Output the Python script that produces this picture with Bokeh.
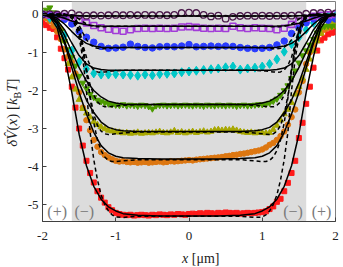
from bokeh.plotting import figure
from bokeh.models import BoxAnnotation, Label, FixedTicker, Range1d, Div
from bokeh.layouts import row, column
from bokeh.embed import file_html
from bokeh.resources import INLINE

# ---------------- data ----------------
x_ticks = [-2, -1, 0, 1, 2]
y_ticks = [0, -1, -2, -3, -4, -5]
neg_region = [-1.6, 1.6]
region_labels = ["(+)", "(\u2212)", "(\u2212)", "(+)"]
region_label_x = [-1.8, -1.43, 1.42, 1.81]
region_label_y = -5.19

XA = [-2.0, -1.9, -1.8, -1.7, -1.6, -1.5, -1.4, -1.3, -1.2, -1.1,
      -1.0, -0.9, -0.8, -0.7, -0.6, -0.5, -0.4, -0.3, -0.2, -0.1,
      0.0, 0.1, 0.2, 0.3, 0.4, 0.5, 0.6, 0.7, 0.8, 0.9,
      1.0, 1.1, 1.2, 1.3, 1.4, 1.5, 1.6, 1.7, 1.8, 1.9,
      2.0]

XB = [-2.00, -1.95, -1.90, -1.85, -1.80, -1.75, -1.70, -1.65, -1.60, -1.55,
      -1.50, -1.45, -1.40, -1.35, -1.30, -1.25, -1.20, -1.15, -1.10, -1.05,
      -1.00, -0.95, -0.90, -0.85, -0.80, -0.75, -0.70, -0.65, -0.60, -0.55,
      -0.50, -0.45, -0.40, -0.35, -0.30, -0.25, -0.20, -0.15, -0.10, -0.05,
      0.00, 0.05, 0.10, 0.15, 0.20, 0.25, 0.30, 0.35, 0.40, 0.45,
      0.50, 0.55, 0.60, 0.65, 0.70, 0.75, 0.80, 0.85, 0.90, 0.95,
      1.00, 1.05, 1.10, 1.15, 1.20, 1.25, 1.30, 1.35, 1.40, 1.45,
      1.50, 1.55, 1.60, 1.65, 1.70, 1.75, 1.80, 1.85, 1.90, 1.95,
      2.00]

open_circles = [0.00, 0.01, 0.00, 0.02, 0.03, -0.02, -0.03, -0.02, -0.03, -0.02,
                -0.01, -0.02, -0.01, -0.02, -0.01, -0.02, -0.01, -0.02, -0.01, 0.04,
                0.05, 0.04, -0.01, -0.05, -0.03, -0.11, -0.06, -0.04, -0.03, -0.04,
                -0.03, -0.04, -0.03, -0.04, -0.03, -0.02, 0.02, 0.04, 0.04, 0.05,
                0.03]
open_squares = [0.00, -0.01, -0.03, -0.05, -0.09, -0.14, -0.22, -0.29, -0.35, -0.39,
                -0.42, -0.44, -0.40, -0.37, -0.36, -0.37, -0.36, -0.37, -0.36, -0.33,
                -0.32, -0.34, -0.36, -0.37, -0.36, -0.37, -0.31, -0.35, -0.37, -0.35,
                -0.36, -0.37, -0.40, -0.36, -0.26, -0.18, -0.10, -0.05, -0.02, -0.01,
                0.00]
blue_circles = [0.00, -0.02, -0.06, -0.13, -0.25, -0.45, -0.60, -0.73, -0.84, -0.89,
                -0.88, -0.86, -0.78, -0.84, -0.87, -0.88, -0.85, -0.84, -0.85, -0.83,
                -0.79, -0.85, -0.84, -0.83, -0.84, -0.83, -0.84, -0.87, -0.89, -0.90,
                -0.89, -0.87, -0.80, -0.70, -0.50, -0.34, -0.22, -0.12, -0.08, -0.15,
                -0.12]
cyan_diamonds = [0.00, -0.09, -0.25, -0.55, -0.95, -1.25, -1.43, -1.55, -1.58, -1.58,
                 -1.57, -1.58, -1.59, -1.61, -1.58, -1.60, -1.57, -1.56, -1.55, -1.52,
                 -1.50, -1.48, -1.46, -1.44, -1.42, -1.39, -1.37, -1.45, -1.42, -1.40,
                 -1.37, -1.30, -1.18, -0.98, -0.78, -0.60, -0.40, -0.22, -0.10, -0.04,
                 -0.02]
green_tri = [0.05, 0.12, 0.18, 0.05, -0.15, -0.45, -0.70, -0.92, -1.12, -1.35,
             -1.62, -1.80, -1.95, -2.10, -2.18, -2.25, -2.29, -2.32, -2.35, -2.37,
             -2.38, -2.39, -2.37, -2.40, -2.38, -2.39, -2.41, -2.38, -2.39, -2.42,
             -2.48, -2.40, -2.39, -2.38, -2.40, -2.39, -2.38, -2.40, -2.39, -2.38,
             -2.39, -2.40, -2.38, -2.39, -2.41, -2.38, -2.39, -2.40, -2.38, -2.39,
             -2.40, -2.38, -2.39, -2.41, -2.39, -2.38, -2.40, -2.39, -2.38, -2.37,
             -2.37, -2.36, -2.33, -2.28, -2.22, -2.12, -2.00, -1.87, -1.68, -1.48,
             -1.27, -1.08, -0.95, -0.80, -0.65, -0.48, -0.36, -0.31, -0.30, -0.31,
             -0.30]
olive_tri = [0.02, 0.00, -0.03, -0.08, -0.15, -0.35, -0.70, -1.30, -1.65, -1.97,
             -2.24, -2.48, -2.60, -2.70, -2.82, -2.90, -2.96, -3.01, -3.05, -3.07,
             -3.09, -3.10, -3.12, -3.11, -3.13, -3.12, -3.10, -3.13, -3.12, -3.11,
             -3.12, -3.10, -3.08, -3.11, -3.12, -3.10, -3.06, -3.11, -3.09, -3.12,
             -3.10, -3.08, -3.11, -3.09, -3.07, -3.10, -3.08, -3.04, -3.03, -3.05,
             -3.03, -3.04, -3.02, -3.05, -3.08, -3.10, -3.11, -3.10, -3.12, -3.11,
             -3.11, -3.12, -3.11, -3.03, -2.92, -2.78, -2.62, -2.50, -2.32, -2.10,
             -1.90, -1.68, -1.45, -1.18, -0.95, -0.70, -0.50, -0.35, -0.25, -0.20,
             -0.18]
orange_circles = [-0.05, -0.10, -0.18, -0.30, -0.45, -0.65, -0.92, -1.10, -1.25, -1.55,
                  -2.05, -2.45, -2.78, -3.05, -3.30, -3.48, -3.62, -3.70, -3.76, -3.81,
                  -3.85, -3.87, -3.86, -3.88, -3.89, -3.88, -3.90, -3.89, -3.88, -3.90,
                  -3.89, -3.88, -3.87, -3.89, -3.88, -3.86, -3.87, -3.86, -3.85, -3.84,
                  -3.83, -3.84, -3.82, -3.81, -3.80, -3.79, -3.78, -3.77, -3.76, -3.75,
                  -3.73, -3.72, -3.70, -3.69, -3.67, -3.66, -3.64, -3.62, -3.60, -3.58,
                  -3.55, -3.50, -3.43, -3.38, -3.30, -3.20, -3.08, -2.90, -2.70, -2.50,
                  -2.05, -1.75, -1.30, -1.00, -0.80, -0.62, -0.48, -0.40, -0.35, -0.32,
                  -0.30]
red_squares = [-0.20, -0.28, -0.35, -0.38, -0.60, -0.90, -1.15, -1.45, -1.90, -2.45,
               -3.00, -3.45, -3.85, -4.17, -4.42, -4.65, -4.82, -4.95, -5.07, -5.15,
               -5.22, -5.25, -5.27, -5.28, -5.27, -5.29, -5.28, -5.27, -5.28, -5.29,
               -5.27, -5.28, -5.26, -5.27, -5.28, -5.26, -5.27, -5.25, -5.26, -5.27,
               -5.25, -5.24, -5.25, -5.23, -5.24, -5.22, -5.23, -5.24, -5.22, -5.23,
               -5.21, -5.22, -5.23, -5.22, -5.24, -5.23, -5.22, -5.23, -5.22, -5.21,
               -5.20, -5.18, -5.12, -5.05, -4.93, -4.85, -4.65, -4.43, -4.17, -3.85,
               -3.25, -2.85, -2.35, -1.90, -1.40, -0.95, -0.68, -0.61, -0.52, -0.48,
               -0.46]

# theory curves (symmetric profiles, left half; mirrored for the right half)
XC_half = [-2.0, -1.9, -1.8, -1.7, -1.6, -1.5, -1.4, -1.3, -1.2, -1.1, -1.0, -0.9, -0.7, -0.4]
solid_1 = [0, -0.005, -0.01, -0.02, -0.03, -0.035, -0.04, -0.04, -0.04, -0.04, -0.04, -0.04, -0.04, -0.04]
solid_2 = [0, -0.01, -0.04, -0.10, -0.17, -0.23, -0.27, -0.295, -0.305, -0.31, -0.31, -0.31, -0.31, -0.31]
solid_3 = [0, -0.02, -0.10, -0.25, -0.45, -0.63, -0.76, -0.83, -0.86, -0.87, -0.87, -0.87, -0.87, -0.87]
solid_4 = [0, -0.03, -0.15, -0.40, -0.75, -1.08, -1.30, -1.41, -1.45, -1.47, -1.47, -1.47, -1.47, -1.47]
solid_5 = [0, -0.03, -0.20, -0.55, -0.98, -1.40, -1.75, -2.00, -2.17, -2.28, -2.33, -2.36, -2.37, -2.37]
solid_6 = [0, -0.04, -0.24, -0.70, -1.25, -1.80, -2.25, -2.58, -2.83, -2.97, -3.03, -3.06, -3.08, -3.08]
solid_7 = [0, -0.04, -0.25, -0.75, -1.40, -2.05, -2.62, -3.10, -3.45, -3.64, -3.73, -3.77, -3.79, -3.80]
solid_8 = [0, -0.06, -0.35, -1.10, -2.05, -3.15, -3.98, -4.52, -4.86, -5.06, -5.17, -5.24, -5.28, -5.30]

XD_half = [-2.0, -1.7, -1.6, -1.55, -1.5, -1.45, -1.4, -1.35, -1.3, -1.25, -1.2, -1.15, -1.1, -1.05, -1.0, -0.9, -0.7]
dash_1 = [0, 0, -0.01, -0.02, -0.03, -0.035, -0.04, -0.04, -0.04, -0.04, -0.04, -0.04, -0.04, -0.04, -0.04, -0.04, -0.04]
dash_2 = [0, 0, -0.02, -0.06, -0.12, -0.19, -0.25, -0.29, -0.31, -0.32, -0.32, -0.32, -0.32, -0.31, -0.31, -0.31, -0.31]
dash_3 = [0, 0, -0.04, -0.12, -0.28, -0.48, -0.66, -0.79, -0.86, -0.89, -0.90, -0.90, -0.89, -0.88, -0.88, -0.87, -0.87]
dash_4 = [0, 0, -0.05, -0.18, -0.45, -0.80, -1.12, -1.34, -1.46, -1.51, -1.52, -1.51, -1.50, -1.49, -1.48, -1.47, -1.47]
dash_5 = [0, 0, -0.05, -0.20, -0.50, -0.95, -1.45, -1.85, -2.12, -2.30, -2.39, -2.43, -2.43, -2.42, -2.41, -2.39, -2.37]
dash_6 = [0, 0, -0.05, -0.18, -0.42, -0.85, -1.50, -2.15, -2.62, -2.92, -3.07, -3.14, -3.16, -3.15, -3.14, -3.12, -3.09]
dash_7 = [0, 0, -0.05, -0.15, -0.38, -0.78, -1.45, -2.20, -2.85, -3.30, -3.58, -3.75, -3.84, -3.87, -3.87, -3.85, -3.82]
dash_8 = [0, 0, -0.10, -0.30, -0.60, -1.15, -2.00, -3.10, -3.82, -4.35, -4.75, -5.00, -5.17, -5.27, -5.33, -5.34, -5.31]


def full_x(half):
    return half + [0.0] + [-v for v in reversed(half)]


def full_y(half):
    return half + [half[-1]] + list(reversed(half))


# ---------------- figure ----------------
SERIF = "Liberation Serif"

p = figure(width=315, height=244, output_backend="svg", toolbar_location=None,
           x_range=Range1d(-2, 2), y_range=Range1d(-5.447, 0.342),
           min_border_left=17, min_border_right=4, min_border_top=1, min_border_bottom=23)
p.xgrid.visible = False
p.ygrid.visible = False
p.background_fill_color = "white"
p.border_fill_color = "white"
p.outline_line_color = "#808080"
p.outline_line_width = 1

for ax, ticks in ((p.xaxis, x_ticks), (p.yaxis, y_ticks)):
    ax.ticker = FixedTicker(ticks=ticks)
    ax.major_label_overrides = {t: str(t) for t in ticks}
    ax.major_tick_in = 4
    ax.major_tick_out = 0
    ax.minor_tick_in = 0
    ax.minor_tick_out = 0
    ax.axis_line_color = "#404040"
    ax.major_tick_line_color = "#404040"
    ax.major_label_text_font = SERIF
    ax.major_label_text_font_size = "13px"
    ax.major_label_text_color = "#222222"
p.xaxis.major_label_standoff = 10
p.yaxis.major_label_standoff = 4

p.add_layout(BoxAnnotation(left=neg_region[0], right=neg_region[1], fill_color="#dcdcdc",
                           fill_alpha=1.0, line_alpha=0, level="underlay"))

# markers
p.scatter(XB, red_squares, marker="square", size=5, fill_color="#ff1a1a", line_color="#ff1a1a")
p.scatter(XB, orange_circles, marker="circle", size=5.5, fill_color="#dd7711", line_color="#dd7711")
p.scatter(XB, olive_tri, marker="triangle", size=6, fill_color="#a8a800", line_color="#a8a800")
p.scatter(XB, green_tri, marker="inverted_triangle", size=6, fill_color="#4c9b00", line_color="#4c9b00")
p.scatter(XA, cyan_diamonds, marker="diamond", size=9, fill_color="#00c8c8", line_color="#00c8c8")
p.scatter(XA, blue_circles, marker="circle", size=6.5, fill_color="#2a3cff", line_color="#2a3cff")
p.scatter(XA, open_squares, marker="square", size=6, fill_color=None, line_color="#a23cd8", line_width=1.6)
p.scatter(XA, open_circles, marker="circle", size=6.5, fill_color=None, line_color="#4b1a4b", line_width=1.3)

# theory curves
for s in (solid_1, solid_2, solid_3, solid_4, solid_5, solid_6, solid_7, solid_8):
    p.line(full_x(XC_half), full_y(s), line_color="black", line_width=1.5)
for d in (dash_1, dash_2, dash_3, dash_4, dash_5, dash_6, dash_7, dash_8):
    p.line(full_x(XD_half), full_y(d), line_color="black", line_width=1.5, line_dash="4 3")

# region labels
for t, lx in zip(region_labels, region_label_x):
    p.add_layout(Label(x=lx, y=region_label_y, text=t, text_font=SERIF, text_font_size="16px",
                       text_color="#7a7a7a", text_align="center", text_baseline="middle"))

# axis labels as HTML so that italics and the subscript are real text
ylabel_html = (
    '<div style="width:24px;height:224px;display:flex;align-items:center;justify-content:center;">'
    '<span style="display:inline-block;white-space:nowrap;transform:rotate(-90deg);'
    "font-family:'Liberation Serif';font-size:15px;color:#222222;line-height:15px;\">"
    '<i>\u03b4V\u0302</i>(<i>x</i>) [<i>k</i><sub style="font-size:10px;line-height:0">B</sub><i>T</i>]'
    '</span></div>'
)
xlabel_html = (
    "<div style=\"padding-left:182px;padding-top:8px;font-family:'Liberation Serif';"
    'font-size:14px;color:#222222;white-space:nowrap;line-height:14px;">'
    '<i>x</i> [\u03bcm]</div>'
)
ydiv = Div(text=ylabel_html, width=24, height=244, margin=0)
xdiv = Div(text=xlabel_html, width=339, height=22, margin=0)

layout = column(row(ydiv, p, spacing=0), xdiv, spacing=0)

open("out.html", "w").write(file_html(layout, INLINE))
